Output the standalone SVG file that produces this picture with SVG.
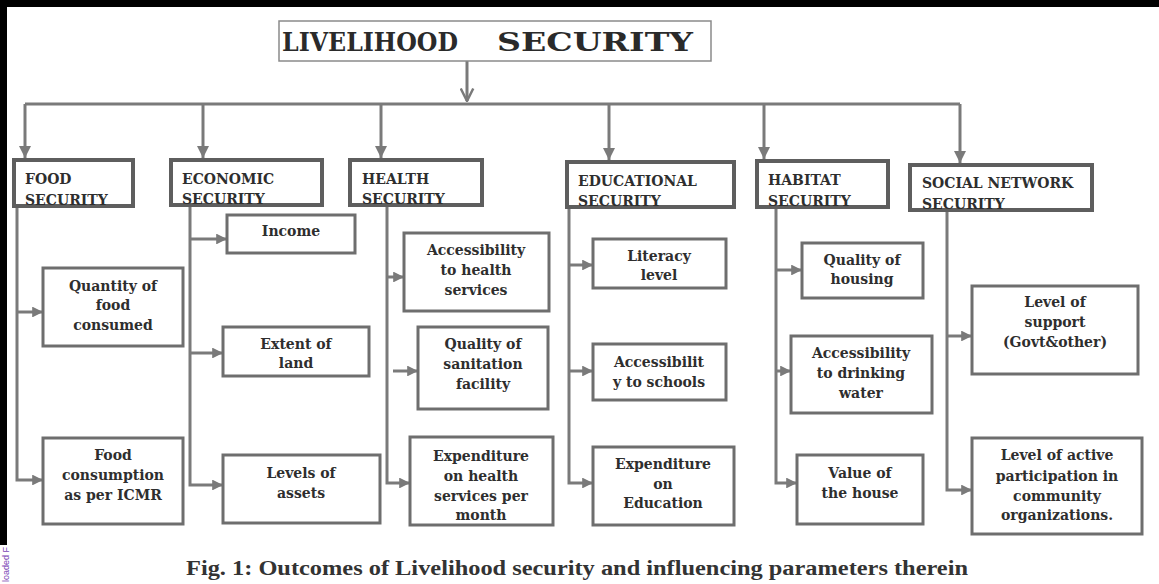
<svg xmlns="http://www.w3.org/2000/svg" width="1159" height="584" viewBox="0 0 1159 584">
<style>
.ln{fill:none;stroke:#7a7a7a;stroke-width:3}
.hb{fill:#fff;stroke:#5e5e5e;stroke-width:4}
.sb{fill:#fff;stroke:#6e6e6e;stroke-width:3}
.ht{font-family:"DejaVu Serif",serif;font-weight:bold;font-size:14px;fill:#2e2e2e}
.bt{font-family:"DejaVu Serif",serif;font-weight:bold;font-size:14px;fill:#2e2e2e;text-anchor:middle}
.tt{font-family:"DejaVu Serif",serif;font-weight:bold;font-size:26px;fill:#2a2a2a}
.cap{font-family:"Liberation Serif",serif;font-weight:bold;font-size:20px;fill:#333}
</style>
<defs>
<marker id="ad" viewBox="0 0 10 10" refX="10" refY="5" markerWidth="4" markerHeight="4" orient="auto" markerUnits="strokeWidth">
<path d="M0,0 L10,5 L0,10 Z" fill="#7a7a7a"/>
</marker>
<marker id="as" viewBox="0 0 10 10" refX="10" refY="5" markerWidth="3.6" markerHeight="3.6" orient="auto" markerUnits="strokeWidth">
<path d="M0,0 L10,5 L0,10 Z" fill="#7a7a7a"/>
</marker>
<marker id="av" viewBox="0 0 12 12" refX="11" refY="6" markerWidth="5" markerHeight="5" orient="auto" markerUnits="strokeWidth">
<path d="M1,1 L11,6 L1,11" fill="none" stroke="#7a7a7a" stroke-width="2"/>
</marker>
</defs>
<rect width="1159" height="584" fill="#fff"/>
<rect x="0" y="0" width="1159" height="7" fill="#000"/>
<rect x="0" y="0" width="7" height="545" fill="#000"/>
<text transform="translate(9,582) rotate(-90)" font-family="Liberation Sans,sans-serif" font-size="9" fill="#7b45b5">loaded F</text>

<g id="connectors">
<path class="ln" d="M467,61 V101" marker-end="url(#av)"/>
<path class="ln" d="M25,104 H960"/>
<path class="ln" d="M25,104 V158" marker-end="url(#ad)"/>
<path class="ln" d="M203,104 V158" marker-end="url(#ad)"/>
<path class="ln" d="M381,104 V158" marker-end="url(#ad)"/>
<path class="ln" d="M609,104 V160" marker-end="url(#ad)"/>
<path class="ln" d="M764,104 V159" marker-end="url(#ad)"/>
<path class="ln" d="M960,104 V163" marker-end="url(#ad)"/>
<path class="ln" d="M17,206 V480 H43" marker-end="url(#as)"/>
<path class="ln" d="M17,312 H43" marker-end="url(#as)"/>
<path class="ln" d="M190,205 V485 H223" marker-end="url(#as)"/>
<path class="ln" d="M190,239 H227" marker-end="url(#as)"/>
<path class="ln" d="M190,353 H223" marker-end="url(#as)"/>
<path class="ln" d="M387,205 V483 H410" marker-end="url(#as)"/>
<path class="ln" d="M387,277 H404" marker-end="url(#as)"/>
<path class="ln" d="M393,371 H418" marker-end="url(#as)"/>
<path class="ln" d="M569,207 V483 H593" marker-end="url(#as)"/>
<path class="ln" d="M569,265 H593" marker-end="url(#as)"/>
<path class="ln" d="M569,371 H593" marker-end="url(#as)"/>
<path class="ln" d="M776,207 V483 H797" marker-end="url(#as)"/>
<path class="ln" d="M776,270 H802" marker-end="url(#as)"/>
<path class="ln" d="M776,371 H791" marker-end="url(#as)"/>
<path class="ln" d="M947,210 V490 H972" marker-end="url(#as)"/>
<path class="ln" d="M947,336 H972" marker-end="url(#as)"/>
</g>

<g id="title">
<rect x="279" y="21" width="432" height="40" fill="#fff" stroke="#8a8a8a" stroke-width="1.5"/>
<text class="tt" x="282" y="51" textLength="176" lengthAdjust="spacingAndGlyphs">LIVELIHOOD</text>
<text class="tt" x="497" y="51" textLength="196" lengthAdjust="spacingAndGlyphs">SECURITY</text>
</g>

<g id="food">
<rect class="hb" x="14" y="160" width="119" height="46"/>
<text class="ht" x="25" y="184">FOOD</text>
<text class="ht" x="25" y="205">SECURITY</text>
</g>
<g id="economic">
<rect class="hb" x="171" y="160" width="151" height="45"/>
<text class="ht" x="182" y="184">ECONOMIC</text>
<text class="ht" x="182" y="204">SECURITY</text>
</g>
<g id="health">
<rect class="hb" x="350" y="160" width="132" height="45"/>
<text class="ht" x="362" y="184">HEALTH</text>
<text class="ht" x="362" y="204">SECURITY</text>
</g>
<g id="educational">
<rect class="hb" x="567" y="162" width="167" height="45"/>
<text class="ht" x="578" y="186">EDUCATIONAL</text>
<text class="ht" x="578" y="206">SECURITY</text>
</g>
<g id="habitat">
<rect class="hb" x="757" y="161" width="131" height="46"/>
<text class="ht" x="768" y="185">HABITAT</text>
<text class="ht" x="768" y="206">SECURITY</text>
</g>
<g id="social">
<rect class="hb" x="910" y="165" width="182" height="45"/>
<text class="ht" x="922" y="188">SOCIAL NETWORK</text>
<text class="ht" x="922" y="209">SECURITY</text>
</g>

<g id="quantity-food">
<rect class="sb" x="43" y="268" width="140" height="78"/>
<text class="bt" x="113" y="291">Quantity of</text>
<text class="bt" x="113" y="310">food</text>
<text class="bt" x="113" y="330">consumed</text>
</g>
<g id="food-icmr">
<rect class="sb" x="43" y="438" width="140" height="86"/>
<text class="bt" x="113" y="460">Food</text>
<text class="bt" x="113" y="480">consumption</text>
<text class="bt" x="113" y="500">as per ICMR</text>
</g>
<g id="income">
<rect class="sb" x="227" y="215" width="128" height="38"/>
<text class="bt" x="291" y="236">Income</text>
</g>
<g id="land">
<rect class="sb" x="223" y="327" width="146" height="49"/>
<text class="bt" x="296" y="349">Extent of</text>
<text class="bt" x="296" y="368">land</text>
</g>
<g id="assets">
<rect class="sb" x="223" y="455" width="157" height="68"/>
<text class="bt" x="301" y="478">Levels of</text>
<text class="bt" x="301" y="498">assets</text>
</g>
<g id="health-access">
<rect class="sb" x="404" y="233" width="145" height="78"/>
<text class="bt" x="476" y="255">Accessibility</text>
<text class="bt" x="476" y="275">to health</text>
<text class="bt" x="476" y="295">services</text>
</g>
<g id="sanitation">
<rect class="sb" x="418" y="327" width="130" height="82"/>
<text class="bt" x="483" y="349">Quality of</text>
<text class="bt" x="483" y="369">sanitation</text>
<text class="bt" x="483" y="389">facility</text>
</g>
<g id="health-exp">
<rect class="sb" x="410" y="437" width="143" height="88"/>
<text class="bt" x="481" y="461">Expenditure</text>
<text class="bt" x="481" y="481">on health</text>
<text class="bt" x="481" y="501">services per</text>
<text class="bt" x="481" y="520">month</text>
</g>
<g id="literacy">
<rect class="sb" x="593" y="239" width="133" height="49"/>
<text class="bt" x="659" y="261">Literacy</text>
<text class="bt" x="659" y="280">level</text>
</g>
<g id="schools">
<rect class="sb" x="593" y="344" width="133" height="56"/>
<text class="bt" x="659" y="367">Accessibilit</text>
<text class="bt" x="659" y="387">y to schools</text>
</g>
<g id="edu-exp">
<rect class="sb" x="593" y="447" width="141" height="78"/>
<text class="bt" x="663" y="469">Expenditure</text>
<text class="bt" x="663" y="489">on</text>
<text class="bt" x="663" y="508">Education</text>
</g>
<g id="housing">
<rect class="sb" x="802" y="243" width="121" height="55"/>
<text class="bt" x="862" y="265">Quality of</text>
<text class="bt" x="862" y="284">housing</text>
</g>
<g id="water">
<rect class="sb" x="791" y="336" width="141" height="77"/>
<text class="bt" x="861" y="358">Accessibility</text>
<text class="bt" x="861" y="378">to drinking</text>
<text class="bt" x="861" y="398">water</text>
</g>
<g id="house-value">
<rect class="sb" x="797" y="455" width="126" height="69"/>
<text class="bt" x="860" y="478">Value of</text>
<text class="bt" x="860" y="498">the house</text>
</g>
<g id="support">
<rect class="sb" x="972" y="286" width="166" height="88"/>
<text class="bt" x="1055" y="307">Level of</text>
<text class="bt" x="1055" y="327">support</text>
<text class="bt" x="1055" y="347">(Govt&amp;other)</text>
</g>
<g id="participation">
<rect class="sb" x="972" y="438" width="170" height="96"/>
<text class="bt" x="1057" y="460">Level of active</text>
<text class="bt" x="1057" y="481">participation in</text>
<text class="bt" x="1057" y="501">community</text>
<text class="bt" x="1057" y="520">organizations.</text>
</g>

<text class="cap" x="186" y="575" textLength="782" lengthAdjust="spacingAndGlyphs">Fig. 1: Outcomes of Livelihood security and influencing parameters therein</text>
</svg>
